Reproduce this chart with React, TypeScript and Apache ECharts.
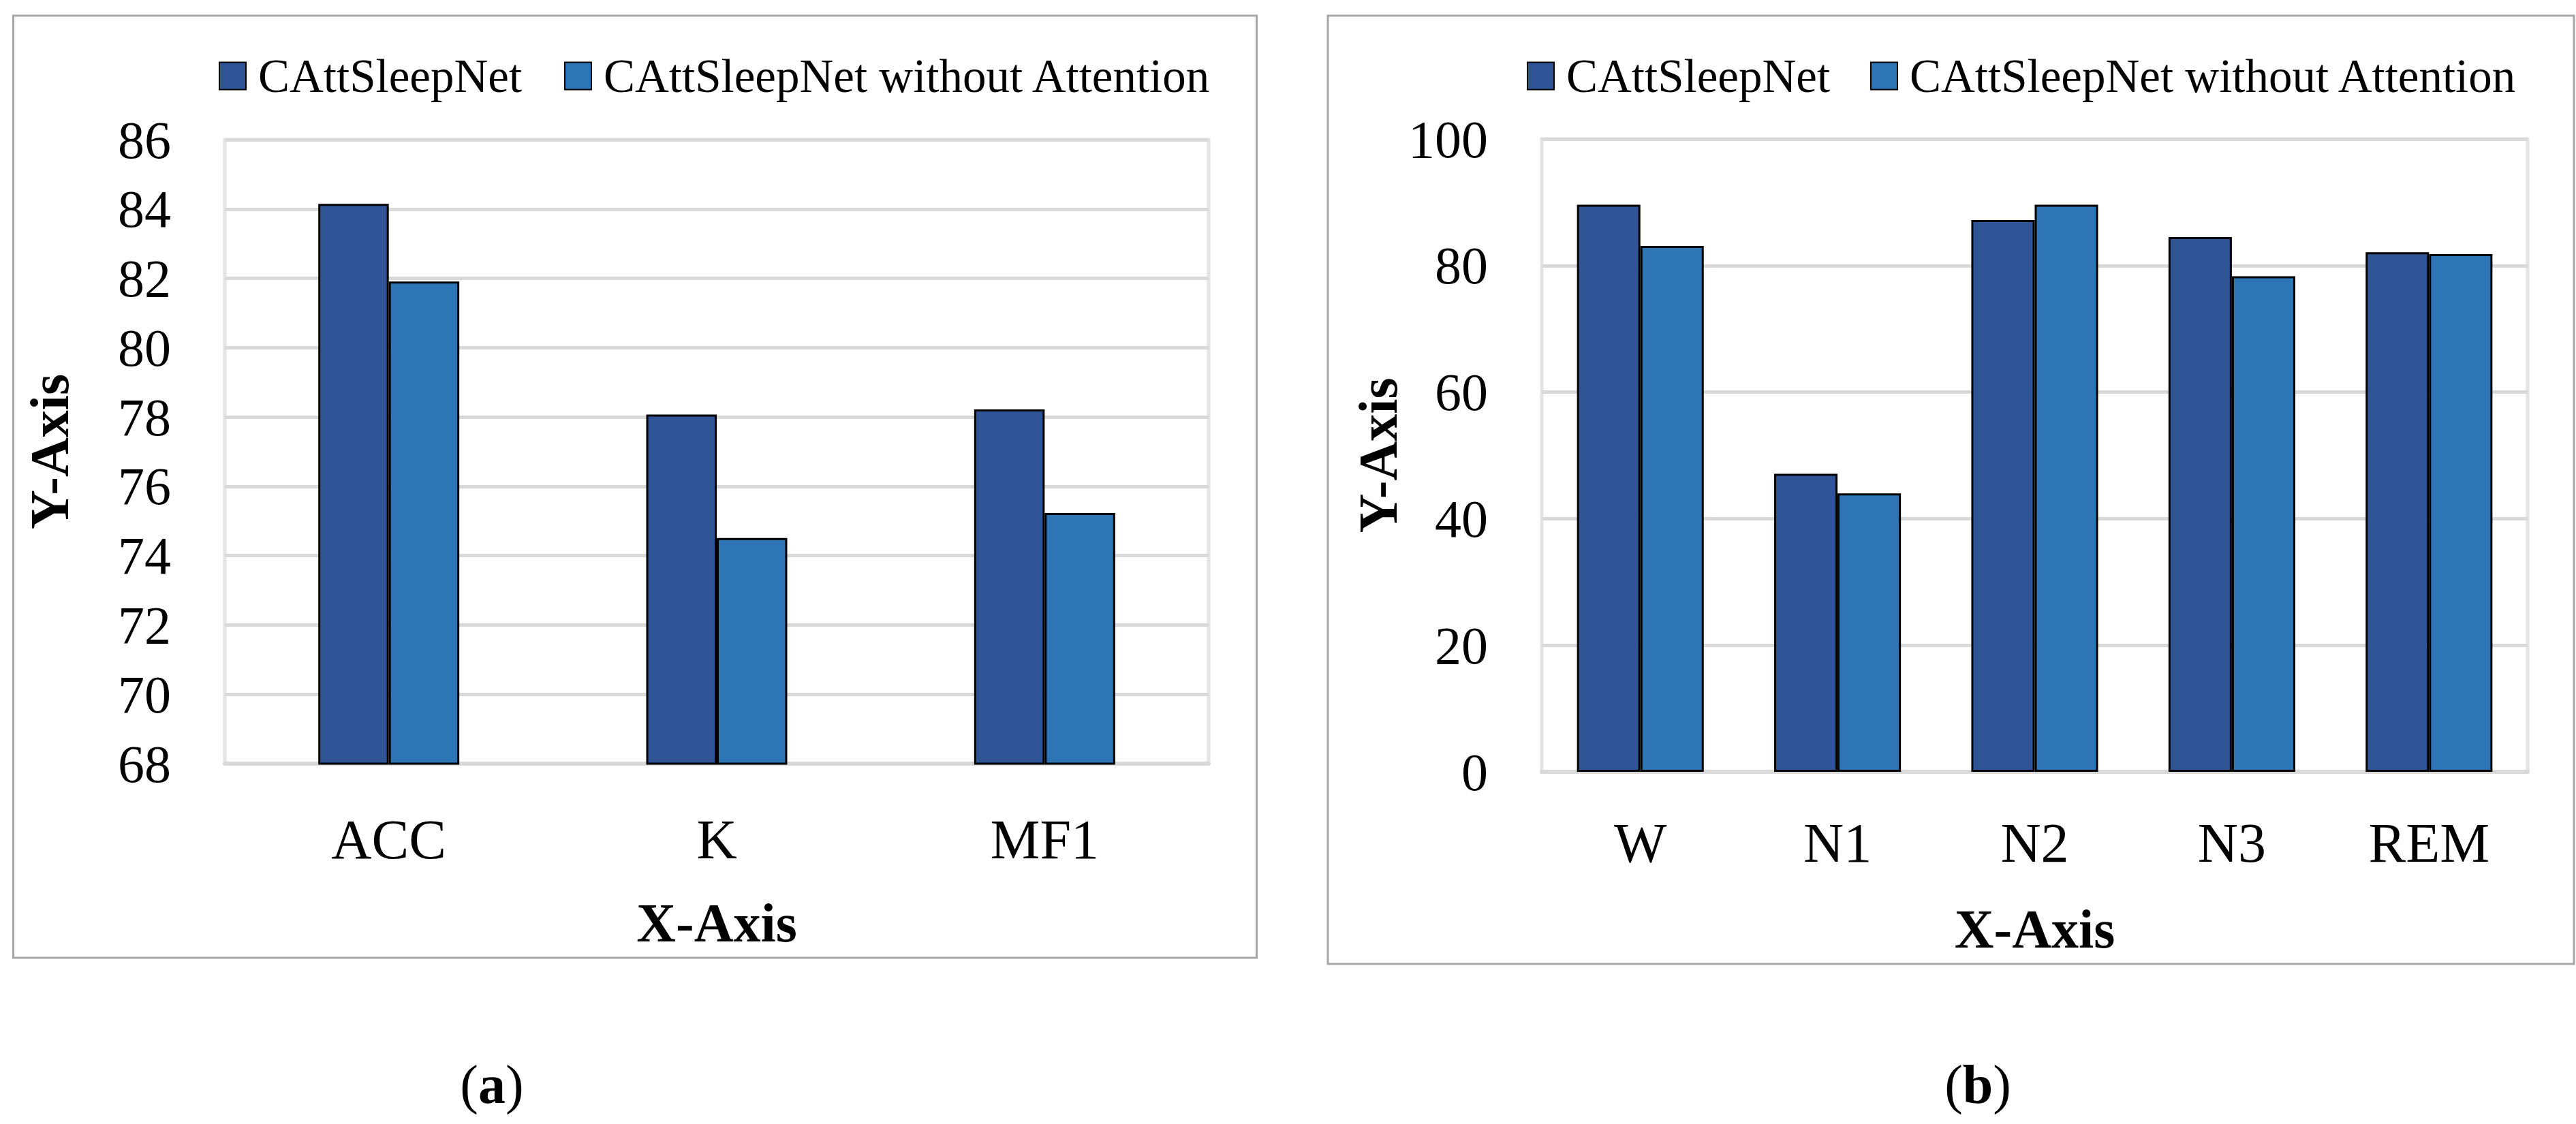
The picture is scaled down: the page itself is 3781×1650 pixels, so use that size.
import React, { useEffect, useRef } from "react";
import * as echarts from "echarts";

const seriesNames = ["CAttSleepNet", "CAttSleepNet without Attention"];
const catsA = ["ACC", "K", "MF1"];
const withAttA = [84.15, 78.07, 78.22];
const withoutAttA = [81.91, 74.51, 75.23];
const catsB = ["W", "N1", "N2", "N3", "REM"];
const withAttB = [89.6, 47.1, 87.2, 84.5, 82.1];
const withoutAttB = [83.1, 44.0, 89.6, 78.3, 81.8];
const yTicksA = { min: 68, max: 86, interval: 2 };
const yTicksB = { min: 0, max: 100, interval: 20 };
const xTitle = "X-Axis";
const yTitle = "Y-Axis";
const panelLabels = ["a", "b"];

const FONT = "'Liberation Serif', 'Times New Roman', serif";
const DARK = "#2F5597";
const LIGHT = "#2E75B6";
const GRID_LINE = "#d9d9d9";

function legend(name: string, left: number) {
  return {
    data: [name],
    left,
    top: 77,
    orient: "horizontal",
    icon: "rect",
    itemWidth: 39,
    itemHeight: 40,
    selectedMode: false,
    padding: 0,
    textStyle: {
      fontFamily: FONT,
      fontSize: 69,
      lineHeight: 66,
      color: "#000",
      padding: [0, 0, 0, 13],
    },
  };
}

function xAxis(gridIndex: number, data: string[], margin: number, nameGap: number) {
  return {
    type: "category",
    gridIndex,
    data,
    axisTick: { show: false },
    axisLine: { show: true, lineStyle: { color: GRID_LINE, width: 6 } },
    axisLabel: {
      fontFamily: FONT,
      fontSize: 82,
      lineHeight: 80,
      color: "#000",
      margin,
    },
    name: xTitle,
    nameLocation: "middle",
    nameGap,
    nameTextStyle: {
      fontFamily: FONT,
      fontSize: 80,
      lineHeight: 80,
      fontWeight: "bold",
      color: "#000",
    },
  };
}

function yAxis(gridIndex: number, ticks: { min: number; max: number; interval: number }, nameGap: number) {
  return {
    type: "value",
    gridIndex,
    min: ticks.min,
    max: ticks.max,
    interval: ticks.interval,
    axisLine: { show: false },
    axisTick: { show: false },
    splitLine: { show: true, lineStyle: { color: GRID_LINE, width: 5 } },
    axisLabel: {
      fontFamily: FONT,
      fontSize: 78,
      color: "#000",
      margin: 79,
      padding: [0, 0, 16, 0],
    },
    name: yTitle,
    nameLocation: "middle",
    nameGap,
    nameTextStyle: {
      fontFamily: FONT,
      fontSize: 80,
      lineHeight: 80,
      fontWeight: "bold",
      color: "#000",
    },
  };
}

function bar(name: string, data: number[], idx: number, color: string, gap: string) {
  return {
    name,
    type: "bar",
    xAxisIndex: idx,
    yAxisIndex: idx,
    data,
    barGap: "0%",
    barCategoryGap: gap,
    itemStyle: { color, borderColor: "#000", borderWidth: 3 },
  };
}

function panelLabel(letter: string, cx: number) {
  return {
    type: "text",
    x: cx,
    y: 1592,
    style: {
      text: `{p|(}{b|${letter}}{p|)}`,
      align: "center",
      verticalAlign: "middle",
      rich: {
        p: { fontFamily: FONT, fontSize: 80, color: "#000" },
        b: { fontFamily: FONT, fontSize: 80, fontWeight: "bold", color: "#000" },
      },
    },
  };
}

export default function App() {
  const ref = useRef<HTMLDivElement>(null);
  useEffect(() => {
    document.body.style.margin = "0";
    if (!ref.current) return;
    const chart = echarts.init(ref.current, undefined, { renderer: "svg" });
    chart.setOption({
      animation: false,
      backgroundColor: "#fff",
      legend: [
        legend(seriesNames[0], 321),
        legend(seriesNames[1], 828),
        legend(seriesNames[0], 2241),
        legend(seriesNames[1], 2745),
      ],
      grid: [
        { left: 330, top: 205, width: 1444, height: 916, show: true, borderColor: "#e4e4e4", borderWidth: 5, backgroundColor: "transparent" },
        { left: 2263, top: 204, width: 1447, height: 929, show: true, borderColor: "#e4e4e4", borderWidth: 5, backgroundColor: "transparent" },
      ],
      xAxis: [xAxis(0, catsA, 71, 194), xAxis(1, catsB, 64, 191)],
      yAxis: [yAxis(0, yTicksA, 217), yAxis(1, yTicksB, 199)],
      series: [
        bar(seriesNames[0], withAttA, 0, DARK, "57%"),
        bar(seriesNames[1], withoutAttA, 0, LIGHT, "57%"),
        bar(seriesNames[0], withAttB, 1, DARK, "35.7%"),
        bar(seriesNames[1], withoutAttB, 1, LIGHT, "35.7%"),
      ],
      graphic: [
        { type: "rect", shape: { x: 19.5, y: 23, width: 1825, height: 1383 }, style: { fill: "none", stroke: "#a6a6a6", lineWidth: 3 }, silent: true },
        { type: "rect", shape: { x: 1949, y: 23, width: 1829, height: 1392 }, style: { fill: "none", stroke: "#a6a6a6", lineWidth: 3 }, silent: true },
        panelLabel(panelLabels[0], 722),
        panelLabel(panelLabels[1], 2903),
      ],
    });
    return () => chart.dispose();
  }, []);
  return <div ref={ref} style={{ width: 3781, height: 1650 }} />;
}
